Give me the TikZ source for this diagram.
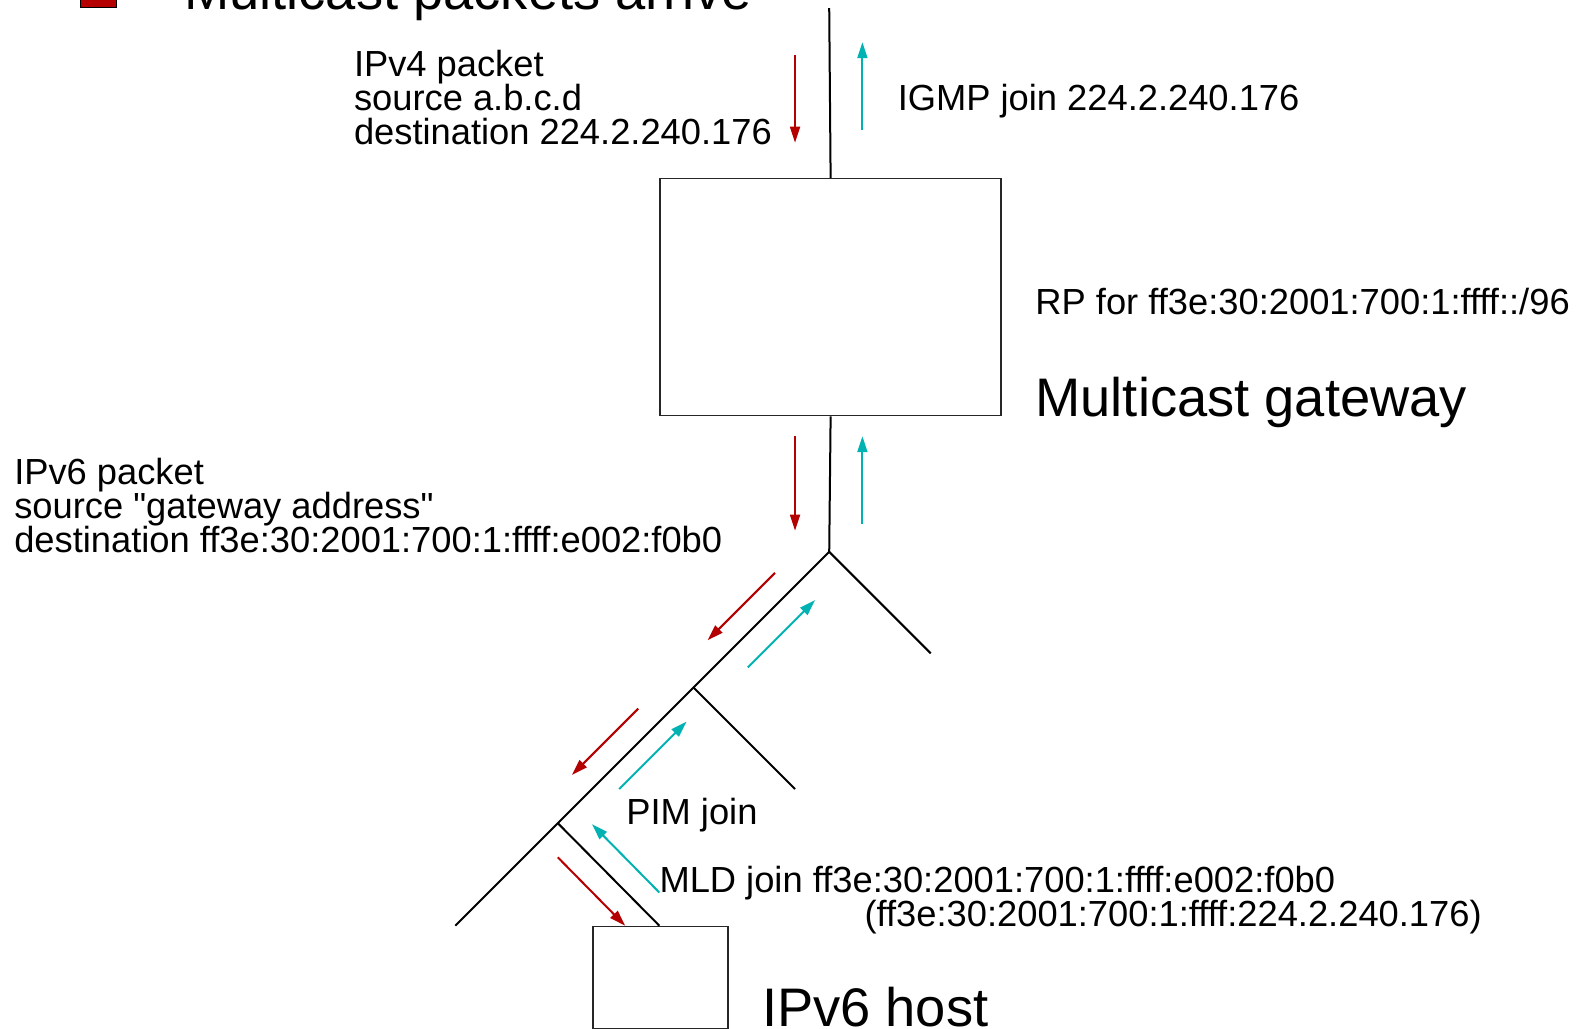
\documentclass[tikz,border=0pt]{standalone}
\usepackage{fontspec}
\setmainfont{Liberation Sans}
\usetikzlibrary{arrows.meta}
\definecolor{pktred}{RGB}{180,0,0}
\definecolor{joincyan}{RGB}{0,178,178}
\newcommand\straightquote{\XeTeXglyph\the\XeTeXcharglyph"22\relax}
\tikzset{
  wire/.style={line width=2pt, black},
  box/.style={draw=black!85, line width=1.5pt, fill=white},
  dnarrow/.style={line width=2pt, pktred, -{Triangle[length=16pt,width=10pt]}},
  uparrow/.style={line width=2pt, joincyan, -{Triangle[length=16pt,width=10pt]}},
  small/.style={inner sep=0pt, anchor=base west, font=\fontsize{36.3}{34}\selectfont},
  big/.style={inner sep=0pt, anchor=base west, font=\fontsize{54.3}{60}\selectfont},
}
\begin{document}
\begin{tikzpicture}[x=1.005pt,y=-1.005pt]
\useasboundingbox (0,0) rectangle (1568,1023);
\clip (0,0) rectangle (1568,1023);
\fill[white] (0,0) rectangle (1568,1023);

% legend
\filldraw[fill=pktred, draw=black, line width=1pt] (80,-30) rectangle (116,7);
\node[big] (legend) at (183,9) {Multicast packets arrive};

% boxes
\node[box, minimum width=341pt, minimum height=237pt, inner sep=0pt, anchor=north west] (gw) at (656,177) {};
\node[box, minimum width=135pt, minimum height=102pt, inner sep=0pt, anchor=north west] (host) at (589,921) {};

% network coordinates
\coordinate (top) at (825,8);
\coordinate (j0) at (825,549);
\coordinate (r0) at (926,650);
\coordinate (j1) at (690,684);
\coordinate (r1) at (791,785);
\coordinate (j2) at (555,819);
\coordinate (end) at (453,921);
\coordinate (hosttop) at (656,921);

\draw[wire] (top) -- (gw.north);
\draw[wire] (gw.south) -- (j0);
\draw[wire] (j0) -- (j1) -- (j2) -- (end);
\draw[wire] (j0) -- (r0);
\draw[wire] (j1) -- (r1);
\draw[wire] (j2) -- (hosttop);

% red arrows (packets)
\coordinate (a1s) at (791,55);  \coordinate (a1e) at (791,142);
\coordinate (a2s) at (791,434); \coordinate (a2e) at (791,528);
\coordinate (a3s) at (771,570); \coordinate (a3e) at (704,637);
\coordinate (a4s) at (635,705); \coordinate (a4e) at (569,771);
\coordinate (a5s) at (555,853); \coordinate (a5e) at (622,921);
\draw[dnarrow] (a1s) -- (a1e);
\draw[dnarrow] (a2s) -- (a2e);
\draw[dnarrow] (a3s) -- (a3e);
\draw[dnarrow] (a4s) -- (a4e);
\draw[dnarrow] (a5s) -- (a5e);

% cyan arrows (joins)
\coordinate (b1s) at (858,129); \coordinate (b1e) at (858,42);
\coordinate (b2s) at (858,521); \coordinate (b2e) at (858,434);
\coordinate (b3s) at (744,664); \coordinate (b3e) at (811,597);
\coordinate (b4s) at (616,785); \coordinate (b4e) at (683,718);
\coordinate (b5s) at (656,888); \coordinate (b5e) at (589,820);
\draw[uparrow] (b1s) -- (b1e);
\draw[uparrow] (b2s) -- (b2e);
\draw[uparrow] (b3s) -- (b3e);
\draw[uparrow] (b4s) -- (b4e);
\draw[uparrow] (b5s) -- (b5e);

% labels
\node[small] (v4a) at (352,76) {IPv4 packet};
\node[small] (v4b) at (352,110) {source a.b.c.d};
\node[small] (v4c) at (352,144) {destination 224.2.240.176};
\node[small] (igmp) at (893,110) {IGMP join 224.2.240.176};
\node[small] (rp) at (1030,313) {RP for ff3e:30:2001:700:1:ffff::/96};
\node[big] (gwlabel) at (1030,414) {Multicast gateway};
\node[small] (v6a) at (14,482) {IPv6 packet};
\node[small] (v6b) at (14,516) {source \straightquote gateway address\straightquote};
\node[small] (v6c) at (14,550) {destination ff3e:30:2001:700:1:ffff:e002:f0b0};
\node[small] (pim) at (623,820) {PIM join};
\node[small] (mld) at (656,888) {MLD join ff3e:30:2001:700:1:ffff:e002:f0b0};
\node[small] (mld2) at (860,922) {(ff3e:30:2001:700:1:ffff:224.2.240.176)};
\node[big] (hostlabel) at (758,1021) {IPv6 host};
\end{tikzpicture}
\end{document}
